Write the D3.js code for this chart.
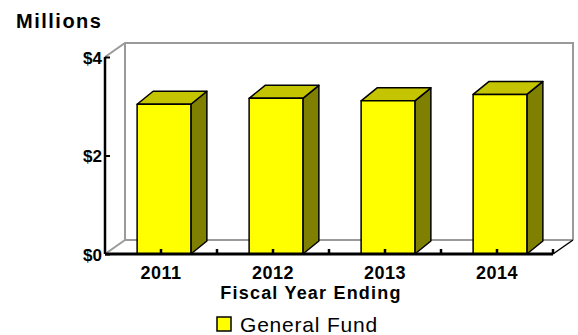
<!DOCTYPE html>
<html>
<head>
<meta charset="utf-8">
<script src="https://cdn.jsdelivr.net/npm/d3@7"></script>
<style>
  html, body { margin: 0; padding: 0; background: #fff; }
  svg { display: block; font-family: "Liberation Sans", Arial, sans-serif; }
</style>
</head>
<body>
<svg id="chart" width="578" height="335"></svg>
<script>
// General Fund totals by fiscal year, in millions of dollars
const years = ["2011", "2012", "2013", "2014"];
const generalFund = [3.04, 3.16, 3.11, 3.24];
const yTicks = [0, 2, 4];
const seriesName = "General Fund";
const unitLabel = "Millions";
const xTitle = "Fiscal Year Ending";

const svg = d3.select("#chart");

// Front plane of the plot and the depth offset of the back wall
const plotLeft = 105, plotRight = 553, plotTop = 57, plotBottom = 254;
const wallDx = 20, wallDy = -14;
// Depth of each bar and where its front face sits inside the wall depth
const barDx = 16, barDy = -13, barShiftX = 3, barShiftY = 0;

const x = d3.scaleBand().domain(years).range([plotLeft, plotRight])
  .paddingInner(0.52).paddingOuter(0.26);
const y = d3.scaleLinear().domain([0, 4]).range([plotBottom, plotTop]);

// Back wall and floor outline
const wall = svg.append("g").attr("fill", "none").attr("stroke", "#9a9a9a").attr("stroke-width", 2);
wall.append("path").attr("d",
  `M${plotLeft},${y(4)}L${plotLeft + wallDx},${y(4) + wallDy}H${plotRight + wallDx}V${y(0) + wallDy}`);
wall.append("path").attr("d",
  `M${plotLeft + wallDx},${y(4) + wallDy}V${y(0) + wallDy}H${plotRight + wallDx}`);
wall.append("path").attr("d",
  `M${plotLeft},${y(0)}L${plotLeft + wallDx},${y(0) + wallDy}`);
svg.append("path").attr("fill", "none").attr("stroke", "#000").attr("stroke-width", 1.5)
  .attr("d", `M${plotRight},${y(0)}L${plotRight + wallDx},${y(0) + wallDy}`);

// 3D bars: right side, top, then front face
const bars = svg.append("g").selectAll("g").data(years.map((yr, i) => ({ yr, v: generalFund[i] })))
  .join("g")
  .attr("stroke", "#000").attr("stroke-width", 1.5).attr("stroke-linejoin", "round");

bars.each(function (d) {
  const g = d3.select(this);
  const x0 = x(d.yr) + barShiftX, x1 = x0 + x.bandwidth();
  const yT = y(d.v) + barShiftY, yB = y(0) + barShiftY;
  g.append("path").attr("fill", "#808000")
    .attr("d", `M${x1},${yB}L${x1 + barDx},${yB + barDy}L${x1 + barDx},${yT + barDy}L${x1},${yT}Z`);
  g.append("path").attr("fill", "#c4c400")
    .attr("d", `M${x0},${yT}L${x0 + barDx},${yT + barDy}L${x1 + barDx},${yT + barDy}L${x1},${yT}Z`);
  g.append("rect").attr("fill", "#ffff00")
    .attr("x", x0).attr("y", yT).attr("width", x1 - x0).attr("height", yB - yT);
});

// Y axis with inward ticks
const yAxis = svg.append("g").attr("transform", `translate(${plotLeft},0)`)
  .call(d3.axisLeft(y).tickValues(yTicks).tickSize(-5).tickPadding(3).tickFormat(d => "$" + d));
yAxis.select(".domain").attr("stroke", "#000").attr("stroke-width", 2.5)
  .attr("d", `M0,${plotTop}V${plotBottom}`);
yAxis.selectAll(".tick line").attr("stroke", "#000").attr("stroke-width", 2);
yAxis.selectAll(".tick text").attr("fill", "#000")
  .style("font-size", "17px").style("font-weight", "bold").attr("dy", "0.36em");

// X axis: category labels plus small upward ticks at centres and boundaries
const xAxis = svg.append("g").attr("transform", `translate(0,${plotBottom})`)
  .call(d3.axisBottom(x).tickSize(0).tickPadding(12));
xAxis.select(".domain").attr("stroke", "#000").attr("stroke-width", 3)
  .attr("d", `M${plotLeft},0H${plotRight}`);
xAxis.selectAll(".tick text").attr("fill", "#000")
  .style("font-size", "18px").style("font-weight", "bold").style("letter-spacing", "0.5px");

const half = x.step() / 2;
const tickPos = d3.range(1, years.length * 2 + 1).map(k => plotLeft + k * half);
xAxis.append("g").selectAll("line").data(tickPos).join("line")
  .attr("x1", d => d).attr("x2", d => d).attr("y1", 0).attr("y2", -5)
  .attr("stroke", "#000").attr("stroke-width", 2.5);

// Titles
svg.append("text").attr("x", 16).attr("y", 28).text(unitLabel)
  .style("font-size", "20px").style("font-weight", "bold").style("letter-spacing", "1.5px");
svg.append("text").attr("x", 311).attr("y", 299).attr("text-anchor", "middle").text(xTitle)
  .style("font-size", "18px").style("font-weight", "bold").style("letter-spacing", "1.2px");

// Legend
const legend = svg.append("g").attr("transform", "translate(217,317)");
legend.append("rect").attr("width", 14).attr("height", 14)
  .attr("fill", "#ffff00").attr("stroke", "#000").attr("stroke-width", 1.5);
legend.append("text").attr("x", 23).attr("y", 14.5).text(seriesName)
  .style("font-size", "21px").style("letter-spacing", "0.8px");
</script>
</body>
</html>
